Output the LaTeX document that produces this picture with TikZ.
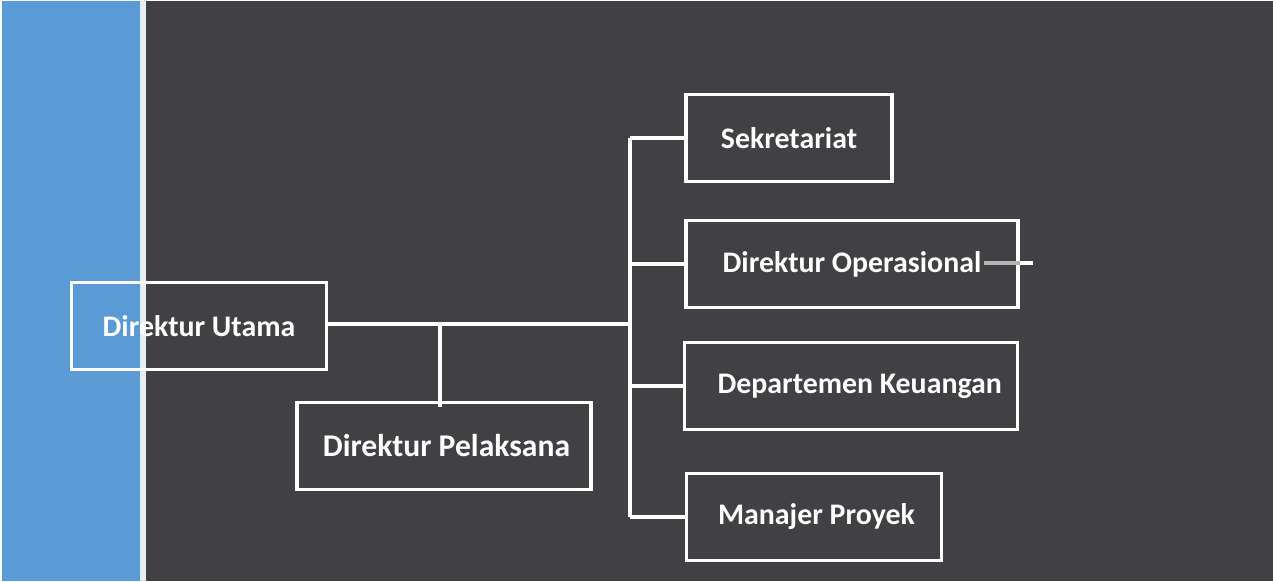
\documentclass[tikz,border=0pt]{standalone}
\usepackage{fontspec}
\setmainfont{Carlito}
\usetikzlibrary{positioning}
\definecolor{darkbg}{HTML}{414042}
\definecolor{bandblue}{HTML}{5B9BD5}
\definecolor{stripe}{HTML}{E8EEF5}
\definecolor{stubgray}{HTML}{B4B4B4}
\begin{document}
\begin{tikzpicture}[
        x=0.02cm, y=-0.02cm,
        unit/.style={rectangle, draw=white, line width=2pt, text=white, font=\fontsize{17}{20}\selectfont\bfseries, inner sep=0pt, minimum height=1.74cm},
        link/.style={draw=white, line width=2pt}
        ]
        % background
        \fill[white] (0,0) rectangle (1273,581);
        \useasboundingbox (0,0) rectangle (1273,581);
        \fill[bandblue] (2,1) rectangle (140,581);
        \fill[stripe] (140,1) rectangle (146,581);
        \fill[darkbg] (146,1) rectangle (1273,581);

        % boxes
        \node[unit, minimum width=5.1cm] (utama) at (199,326) {Direktur Utama};
        \node[unit, minimum width=5.88cm, font=\fontsize{18}{20}\selectfont\bfseries] (pelaksana) at (444,446) {\hspace{0.1cm}Direktur Pelaksana};
        \node[unit, minimum width=4.12cm] (sekretariat) at (789,138) {Sekretariat};
        \node[unit, minimum width=6.64cm] (operasional) at (852,264) {Direktur Operasional\hspace{0.12cm}};
        \node[unit, minimum width=6.66cm] (keuangan) at (851,386) {\hspace{0.35cm}Departemen Keuangan};
        \node[unit, minimum width=5.1cm] (proyek) at (814,517) {\hspace{0.1cm}Manajer Proyek};

        % junctions
        \coordinate (trunk) at (630,324);
        \coordinate (drop) at (440,324);
        \coordinate (stubin) at (984,263);
        \coordinate (stubout) at (1033,263);

        % connectors
        \path[link] (utama.east |- trunk) -- (trunk);
        \path[link] (drop) -- ([yshift=-0.12cm]pelaksana.north -| drop);
        \path[link] (trunk |- sekretariat.west) -- (trunk |- proyek.west);
        \path[link] (trunk |- sekretariat.west) -- (sekretariat.west);
        \path[link] (trunk |- operasional.west) -- (operasional.west);
        \path[link] (trunk |- keuangan.west) -- (keuangan.west);
        \path[link] (trunk |- proyek.west) -- (proyek.west);
        \path[draw=stubgray, line width=2pt] (stubin) -- (operasional.east |- stubin);
        \path[link] (operasional.east |- stubin) -- (stubout);
      \end{tikzpicture}
\end{document}
